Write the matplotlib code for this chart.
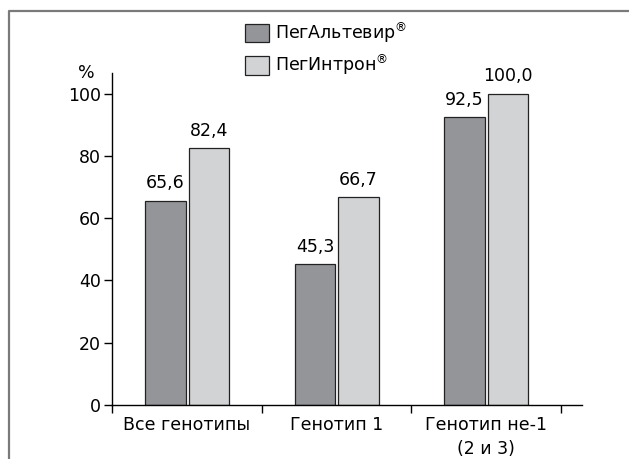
import numpy as np
import matplotlib
matplotlib.use("Agg")
import matplotlib.pyplot as plt
from matplotlib.lines import Line2D

plt.rcParams['font.family'] = ['DejaVu Sans']

# data
categories = ["Все генотипы", "Генотип 1", "Генотип не-1\n(2 и 3)"]
peg_altevir = [65.6, 45.3, 92.5]
peg_intron = [82.4, 66.7, 100.0]
series_names = ["ПегАльтевир$^{\\mathregular{®}}$", "ПегИнтрон$^{\\mathregular{®}}$"]
y_ticks = [0, 20, 40, 60, 80, 100]

dark = "#939598"
light = "#d1d3d4"
fs = 12.5

fig = plt.figure(figsize=(6.29, 4.59), dpi=100)
ax = fig.add_axes([0.178, 0.1176, 0.747, 0.7227])

x = np.arange(len(categories))
w = 0.27
b1 = ax.bar(x - 0.143, peg_altevir, w, color=dark, edgecolor="#222222", linewidth=0.9,
            label=series_names[0])
b2 = ax.bar(x + 0.148, peg_intron, w, color=light, edgecolor="#222222", linewidth=0.9,
            label=series_names[1])

def fmt(v):
    return ("%.1f" % v).replace(".", ",")

for bars, vals in [(b1, peg_altevir), (b2, peg_intron)]:
    for rect, v in zip(bars, vals):
        ax.annotate(fmt(v), (rect.get_x() + rect.get_width() / 2, v),
                    xytext=(0, 6), textcoords="offset points",
                    ha="center", va="bottom", fontsize=fs)

ax.set_xlim(-0.5, 2.64)
ax.set_ylim(0, 106.5)
ax.set_yticks(y_ticks)
ax.tick_params(axis="y", length=6, width=1, pad=2, labelsize=fs)

ax.set_xticks(x)
ax.set_xticklabels(categories, fontsize=fs, linespacing=1.45)
ax.set_xticks(np.arange(-0.5, 3, 1), minor=True)
ax.tick_params(axis="x", which="major", length=0, pad=8)
ax.tick_params(axis="x", which="minor", length=6, width=1, direction="out")

for s in ["top", "right"]:
    ax.spines[s].set_visible(False)
for s in ["left", "bottom"]:
    ax.spines[s].set_linewidth(1)

ax.text(-0.67, 106.5, "%", ha="center", va="center", fontsize=fs)

leg = ax.legend(loc="upper left", bbox_to_anchor=(245 / 629, 1 - 20 / 459),
                bbox_transform=fig.transFigure, frameon=False, fontsize=fs,
                handlelength=1.38, handleheight=1.3, handletextpad=0.35,
                labelspacing=0.45, borderpad=0, borderaxespad=0)

# outer frame (top and left edges only)
fig.add_artist(Line2D([9 / 629, 9 / 629, 1.0], [0.0, 1 - 11 / 459, 1 - 11 / 459],
                      transform=fig.transFigure, color="#7a7a7a", linewidth=1.6))

fig.savefig("out.png", dpi=100)
